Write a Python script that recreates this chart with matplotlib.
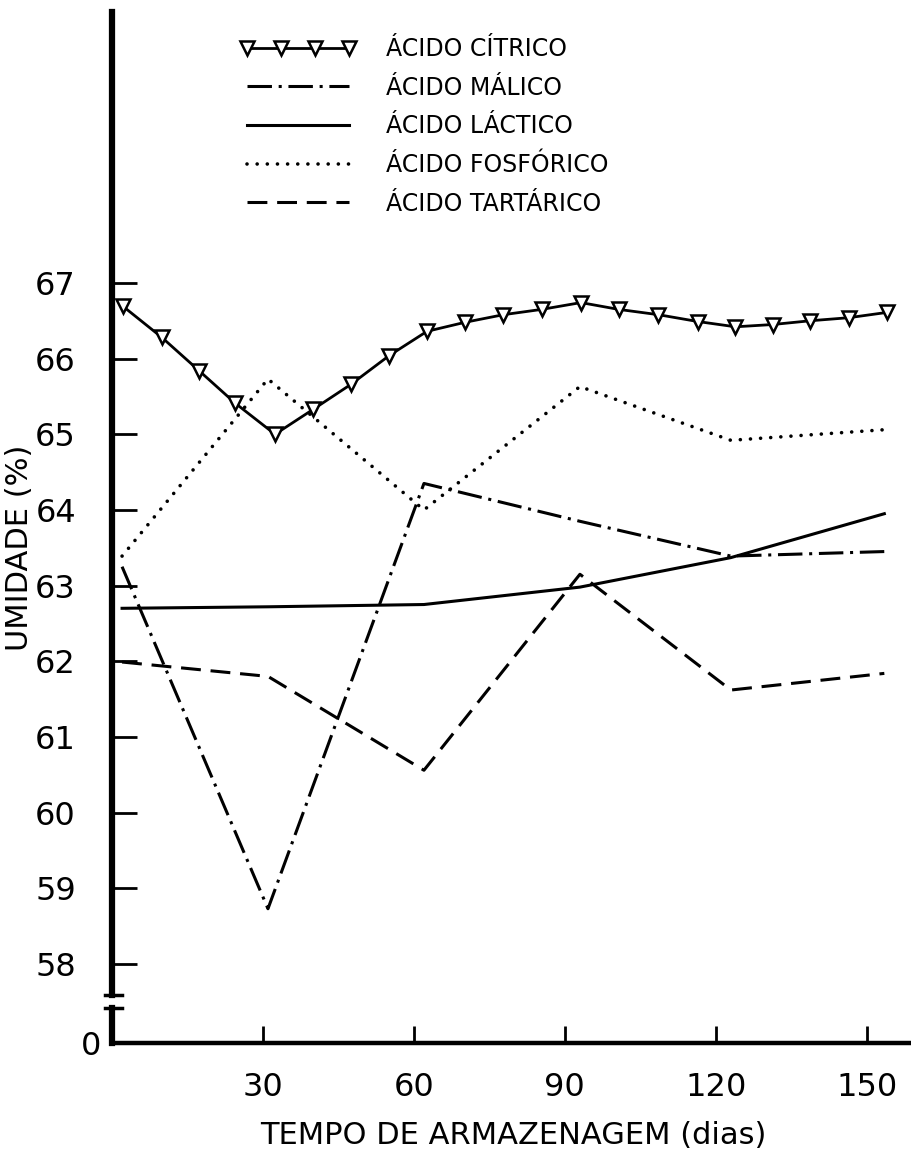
import matplotlib
matplotlib.use('Agg')
import matplotlib.pyplot as plt

plt.rcParams['font.family'] = ['DejaVu Sans']

dias_citrico = [2.2, 9.9, 17.3, 24.5, 32.4, 40.0, 47.5, 55.1, 62.6, 70.2, 77.8,
                85.4, 93.2, 100.7, 108.6, 116.4, 123.9, 131.3, 138.8, 146.4, 154.0]
citrico = [66.69, 66.28, 65.84, 65.41, 65.00, 65.33, 65.66, 66.04, 66.36, 66.48, 66.58,
           66.65, 66.74, 66.65, 66.58, 66.49, 66.42, 66.45, 66.50, 66.54, 66.61]

# the other acids, sampled at the storage days
dias = [2, 31, 62, 93, 123, 153.5]
malico = [63.25, 58.73, 64.35, 63.85, 63.39, 63.45]
lactico = [62.70, 62.72, 62.75, 62.98, 63.37, 63.95]
fosforico = [63.39, 65.73, 64.00, 65.63, 64.92, 65.06]
tartarico = [61.99, 61.80, 60.56, 63.15, 61.62, 61.84]

yticks = [58, 59, 60, 61, 62, 63, 64, 65, 66, 67]
xticks = [30, 60, 90, 120, 150]

W, H = 912, 1158
fig = plt.figure(figsize=(W / 100, H / 100), dpi=100)

# main axes (58..67) and small axes for the zero after the break
ax = fig.add_axes([112 / W, 1 - 995 / H, 1 - 112 / W, (995 - 12) / H])
ax0 = fig.add_axes([112 / W, 1 - 1043 / H, 1 - 112 / W, 35 / H], sharex=ax)

ax.plot(dias_citrico, citrico, color='black', lw=2, marker='v', ms=10,
        mfc='white', mec='black', mew=1.8, label='ÁCIDO CÍTRICO')
ax.plot(dias, malico, color='black', lw=2.2, linestyle=(0, (8, 2.2, 1, 2.2)),
        label='ÁCIDO MÁLICO')
ax.plot(dias, lactico, color='black', lw=2.2, linestyle='-', label='ÁCIDO LÁCTICO')
ax.plot(dias, fosforico, color='black', lw=2.6, linestyle=(0, (0.01, 2.8)),
        dash_capstyle='round', label='ÁCIDO FOSFÓRICO')
ax.plot(dias, tartarico, color='black', lw=2.2, linestyle=(0, (6.5, 3.2)),
        label='ÁCIDO TARTÁRICO')

ax.set_xlim(0, 159)
ax.set_ylim(57.59, 70.58)
ax.set_yticks(yticks)
ax.set_yticklabels([str(v) for v in yticks])
for s in ['top', 'right', 'bottom']:
    ax.spines[s].set_visible(False)
ax.spines['left'].set_linewidth(4.5)
ax.tick_params(axis='y', direction='in', length=18, width=2, labelsize=23, pad=26)
ax.tick_params(axis='x', bottom=False, labelbottom=False)

ax0.set_ylim(0, 1)
ax0.set_yticks([0])
ax0.set_yticklabels(['0'])
ax0.set_xticks(xticks)
ax0.set_xticklabels([str(v) for v in xticks])
for s in ['top', 'right']:
    ax0.spines[s].set_visible(False)
ax0.spines['left'].set_linewidth(4.5)
ax0.spines['bottom'].set_linewidth(3.2)
ax0.tick_params(axis='y', length=0, labelsize=23, pad=8)
ax0.tick_params(axis='x', direction='in', length=12, width=2, labelsize=23, pad=21)

# break marks
ax.plot([-0.009, 0.0125], [0, 0], transform=ax.transAxes, color='black', lw=2.5,
        clip_on=False)
ax0.plot([-0.009, 0.0125], [1, 1], transform=ax0.transAxes, color='black', lw=2.5,
         clip_on=False)

fig.legend(*ax.get_legend_handles_labels(), loc='upper left',
           bbox_to_anchor=(240 / W, 1 - 37 / H), frameon=False, fontsize=17,
           numpoints=4, handlelength=4.9, handletextpad=1.3, labelspacing=0.62,
           borderpad=0, borderaxespad=0)

fig.text(20 / W, 1 - 548 / H, 'UMIDADE (%)', rotation=90, ha='center', va='center',
         fontsize=22)
fig.text(513 / W, 1 - 1135 / H, 'TEMPO DE ARMAZENAGEM (dias)', ha='center',
         va='center', fontsize=22)

fig.savefig('out.png', dpi=100)
